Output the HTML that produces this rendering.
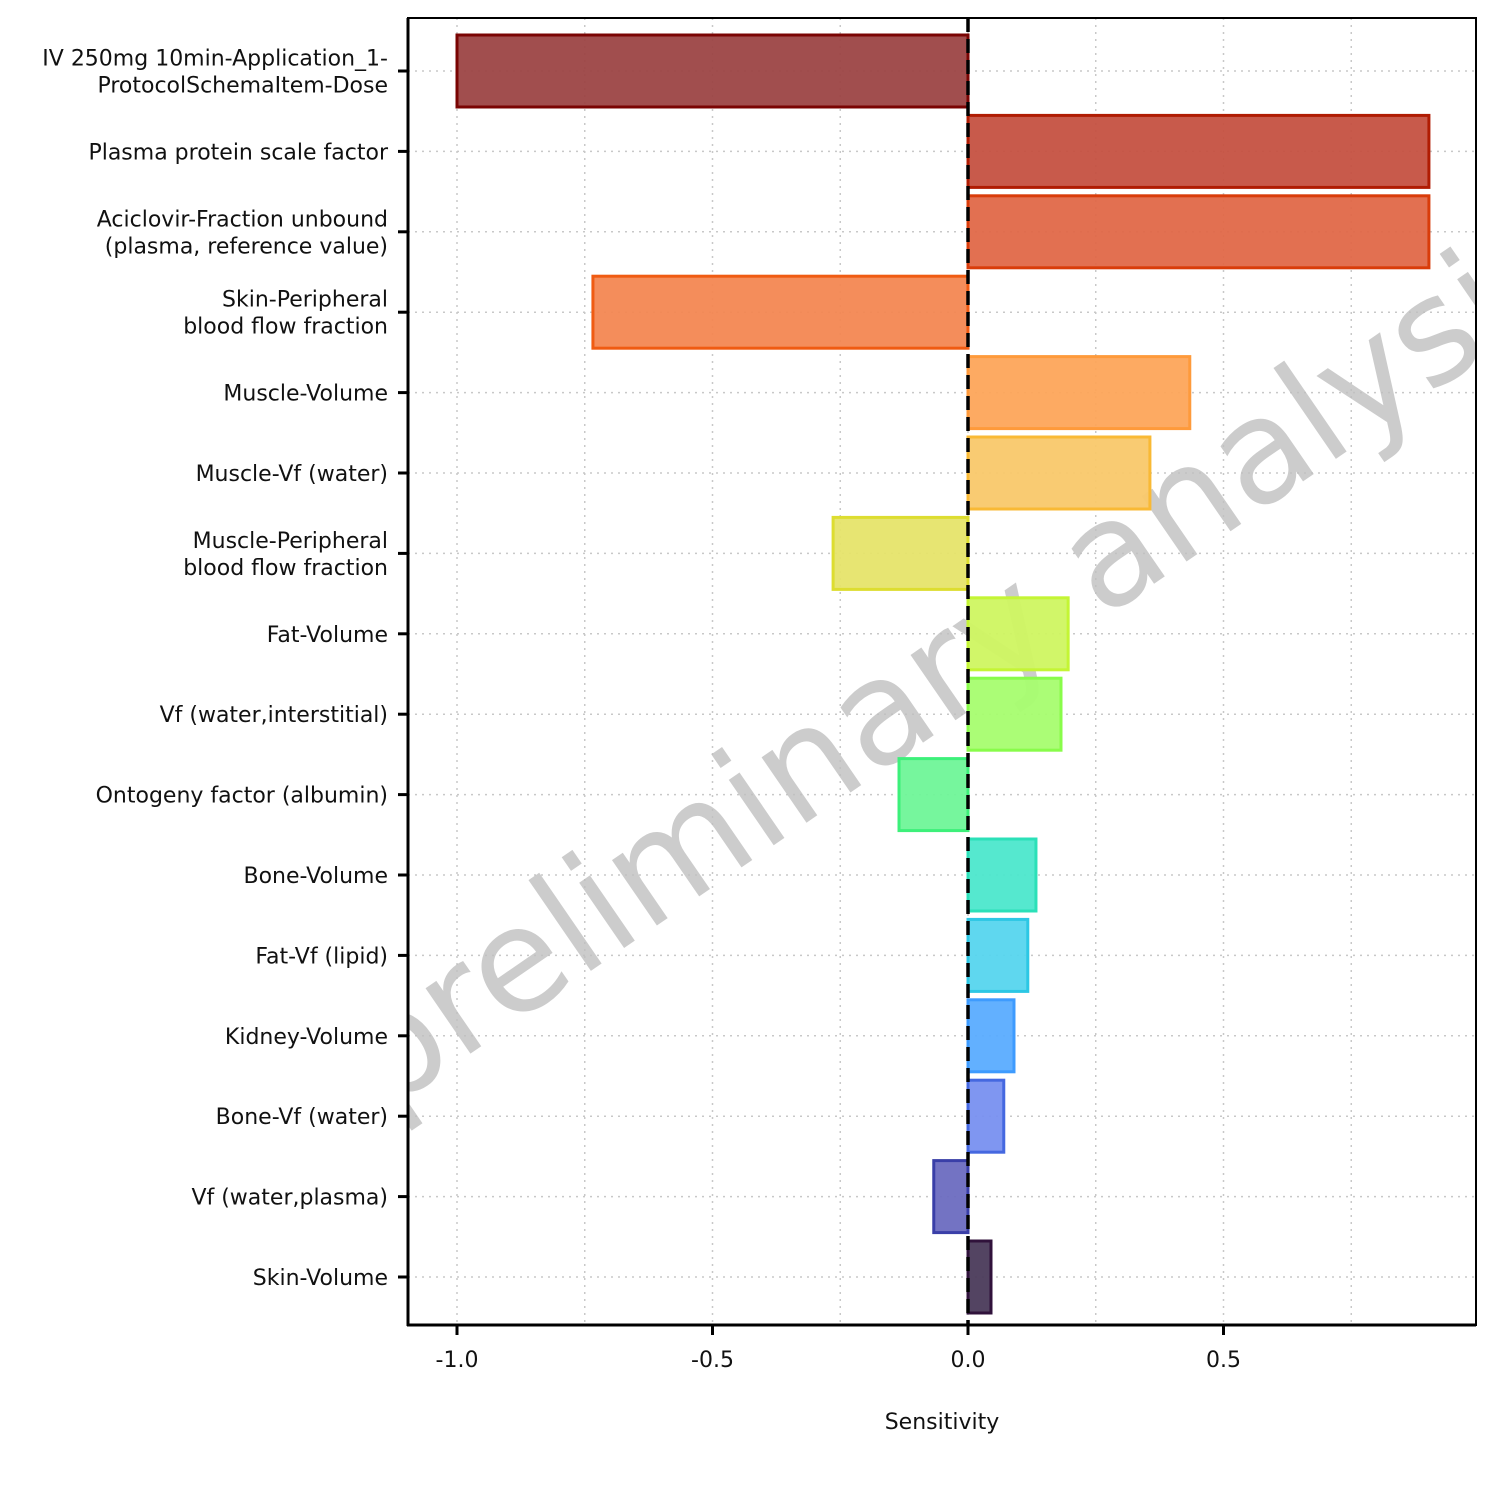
<!DOCTYPE html>
<html><head><meta charset="utf-8"><style>
body{margin:0;background:#fff;font-family:"Liberation Sans","DejaVu Sans",sans-serif;}
</style></head><body>
<svg id="chart" width="1500" height="1500" xmlns="http://www.w3.org/2000/svg">
<defs><clipPath id="plotclip"><rect x="408" y="18" width="1068" height="1307"/></clipPath></defs>
<rect width="1500" height="1500" fill="#fff"/>
<g id="grid" clip-path="url(#plotclip)"></g>
<g id="bars"></g>
<g id="axes"></g>
</svg>
<script>
const categories=["IV 250mg 10min-Application_1-|ProtocolSchemaItem-Dose","Plasma protein scale factor","Aciclovir-Fraction unbound|(plasma, reference value)","Skin-Peripheral|blood flow fraction","Muscle-Volume","Muscle-Vf (water)","Muscle-Peripheral|blood flow fraction","Fat-Volume","Vf (water,interstitial)","Ontogeny factor (albumin)","Bone-Volume","Fat-Vf (lipid)","Kidney-Volume","Bone-Vf (water)","Vf (water,plasma)","Skin-Volume"];
const values=[-1.0,0.902,0.902,-0.734,0.434,0.356,-0.264,0.196,0.182,-0.135,0.133,0.117,0.09,0.07,-0.067,0.045];
const fills=["#9c4544","#c55141","#e06848","#f38752","#fda55a","#f9c86a","#e6e46a","#cff661","#a6fd6f","#6ff598","#4ce7cc","#56d5ee","#5aacff","#7890f0","#6b6cc0","#4a3a5a"];
const strokes=["#7a0403","#b01c03","#d93c0a","#f05b12","#fe9a3b","#f9b935","#dddd30","#c4f535","#88fc4a","#3df07a","#2be0b8","#2cc7e4","#3e9bfe","#4568e0","#3a3fa8","#30123b"];
const xTicks=[-1.0,-0.5,0.0,0.5];
const xTickLabels=["-1.0","-0.5","0.0","0.5"];
const xMinor=[-0.75,-0.25,0.25,0.75];
const NS="http://www.w3.org/2000/svg";
const L=408,R=1476,T=18,B=1325;
const x=v=>968+v*511;
const y=i=>71+i*80.4;
function mk(tag,attrs,parent){const e=document.createElementNS(NS,tag);for(const k in attrs)e.setAttribute(k,attrs[k]);parent.appendChild(e);return e;}
const grid=document.getElementById('grid'),bars=document.getElementById('bars'),axes=document.getElementById('axes');
xTicks.concat(xMinor).forEach(v=>{const l=mk('line',{x1:x(v),x2:x(v),y1:T,y2:B,stroke:'#c8c8c8','stroke-width':1.5,'stroke-dasharray':'2,5'},grid);

});
categories.forEach((c,i)=>{const l=mk('line',{x1:L,x2:R,y1:y(i),y2:y(i),stroke:'#c8c8c8','stroke-width':1.5,'stroke-dasharray':'2,5'},grid);

});
const wm=mk('text',{x:0,y:0,'font-size':145,fill:'#bfbfbf','fill-opacity':0.8,'text-anchor':'middle','font-family':'"DejaVu Sans",sans-serif',transform:'translate(985,700) rotate(-34.5)'},grid);
wm.textContent='preliminary analysis';


categories.forEach((c,i)=>{const v=values[i];const x0=Math.min(x(0),x(v)),w=Math.abs(x(v)-x(0));
const r=mk('rect',{x:x0,y:y(i)-36,width:w,height:72,fill:fills[i],'fill-opacity':0.95,stroke:strokes[i],'stroke-width':3},bars);


const lines=c.split('|');
const t=mk('text',{x:388,'font-size':22,fill:'#111','text-anchor':'end','font-family':'"DejaVu Sans",sans-serif'},axes);


lines.forEach((s,k)=>{const ts=mk('tspan',{x:388,y:y(i)+8+(k-(lines.length-1)/2)*27},t);ts.textContent=s;});
const tk=mk('line',{x1:398,x2:408,y1:y(i),y2:y(i),stroke:'#000','stroke-width':3},axes);

});
const z=mk('line',{x1:x(0),x2:x(0),y1:T,y2:B,stroke:'#000','stroke-width':3.5,'stroke-dasharray':'14,7'},axes);


const fr=mk('rect',{x:L,y:T,width:R-L,height:B-T,fill:'none',stroke:'#000','stroke-width':2},axes);


const la=mk('line',{x1:L,x2:L,y1:T,y2:B+1,stroke:'#000','stroke-width':3},axes);


const ba=mk('line',{x1:L-1,x2:R,y1:B,y2:B,stroke:'#000','stroke-width':3},axes);


xTicks.forEach((v,i)=>{const tk=mk('line',{x1:x(v),x2:x(v),y1:B,y2:B+10,stroke:'#000','stroke-width':3},axes);


const t=mk('text',{x:x(v),y:B+42,'font-size':22,fill:'#111','text-anchor':'middle','font-family':'"DejaVu Sans",sans-serif'},axes);
t.textContent=xTickLabels[i];

});
const xt=mk('text',{x:942,y:1429,'font-size':22,fill:'#111','text-anchor':'middle','font-family':'"DejaVu Sans",sans-serif'},axes);
xt.textContent='Sensitivity';


</script>
</body></html>
